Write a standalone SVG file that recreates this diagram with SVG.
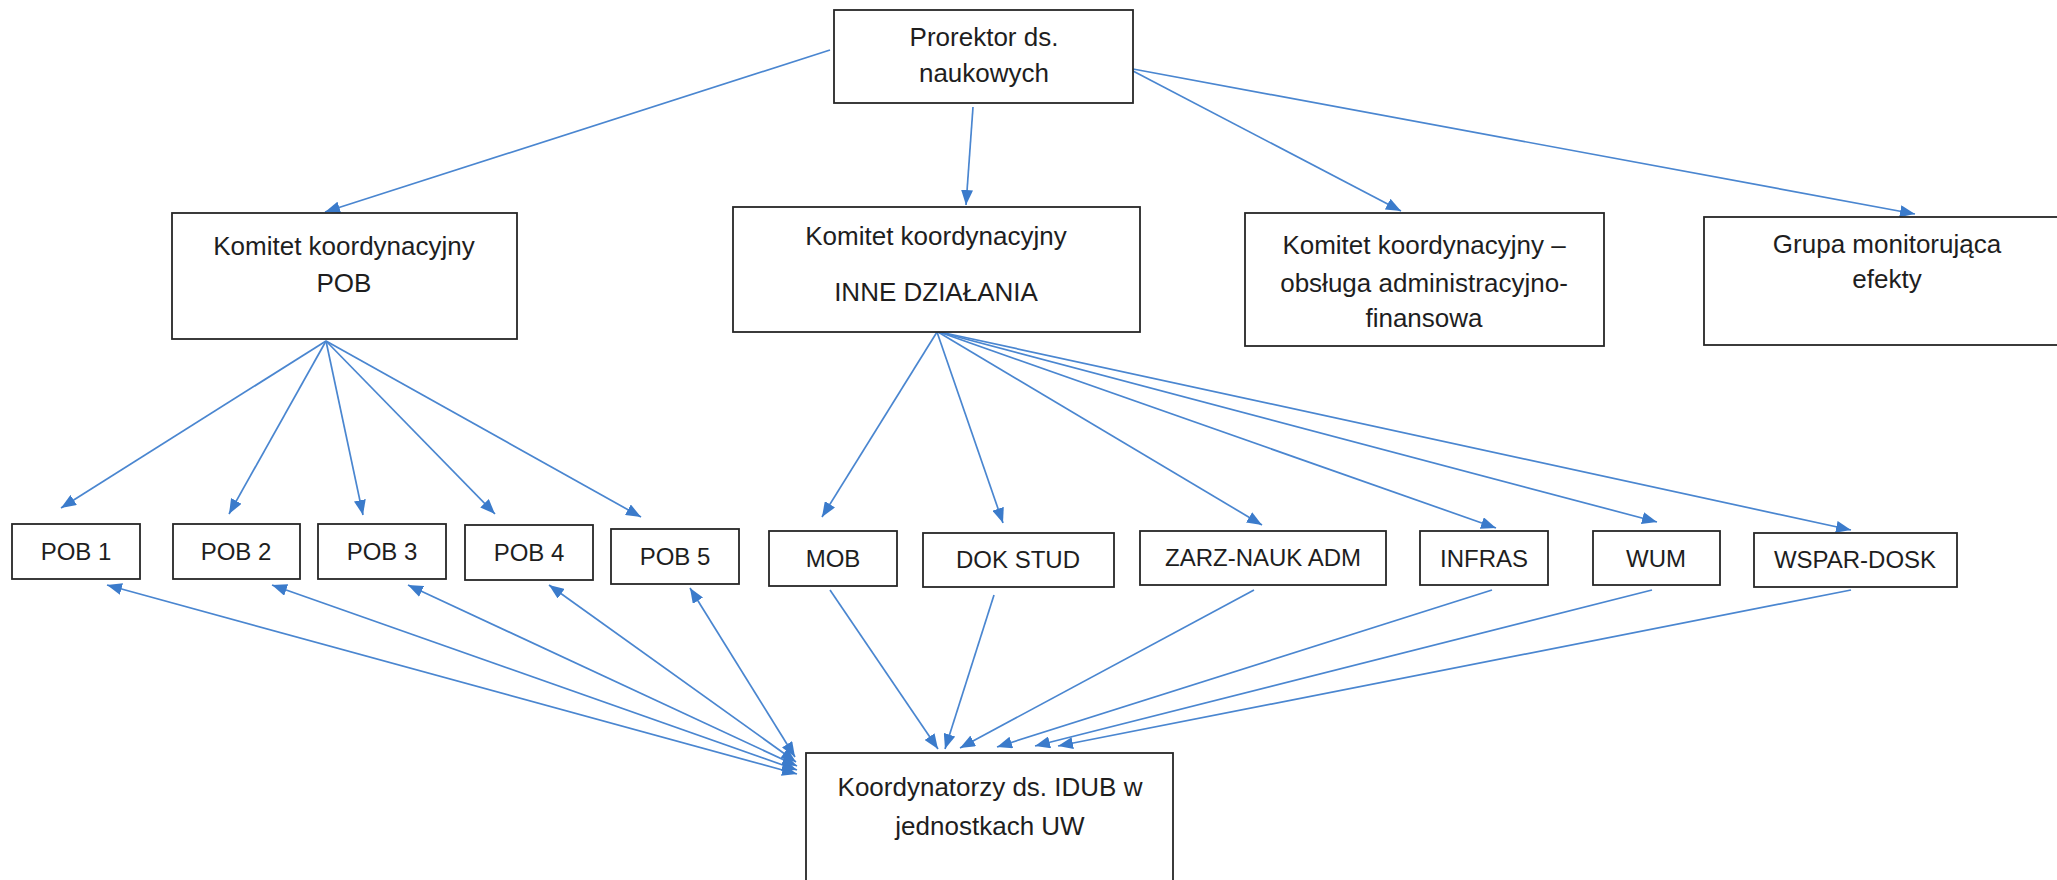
<svg xmlns="http://www.w3.org/2000/svg" width="2057" height="880" viewBox="0 0 2057 880">
<style>
.box{fill:#fff;stroke:#262626;stroke-width:1.8}
.t{font-family:"Liberation Sans",Arial,sans-serif;font-size:26px;fill:#1e1e1e;text-anchor:middle}
.s{font-size:24px}
.c{fill:none;stroke:#4a86d0;stroke-width:1.7}
</style>
<defs>
<marker id="ah" viewBox="0 0 15 12" refX="15" refY="6" markerWidth="15" markerHeight="12" markerUnits="userSpaceOnUse" orient="auto-start-reverse">
<path d="M0,0 L15,6 L0,12 z" fill="#3b7bcb"/>
</marker>
</defs>
<rect width="2057" height="880" fill="#fff"/>
<g id="connectors">
<line class="c" x1="830" y1="50" x2="325" y2="212" marker-end="url(#ah)"/>
<line class="c" x1="973" y1="107" x2="966" y2="205" marker-end="url(#ah)"/>
<line class="c" x1="1133" y1="71" x2="1401" y2="211" marker-end="url(#ah)"/>
<line class="c" x1="1133" y1="69" x2="1915" y2="214" marker-end="url(#ah)"/>
<line class="c" x1="326" y1="341" x2="61" y2="508" marker-end="url(#ah)"/>
<line class="c" x1="326" y1="341" x2="229" y2="514" marker-end="url(#ah)"/>
<line class="c" x1="326" y1="341" x2="363" y2="515" marker-end="url(#ah)"/>
<line class="c" x1="326" y1="341" x2="495" y2="514" marker-end="url(#ah)"/>
<line class="c" x1="326" y1="341" x2="641" y2="517" marker-end="url(#ah)"/>
<line class="c" x1="937" y1="332" x2="822" y2="517" marker-end="url(#ah)"/>
<line class="c" x1="937" y1="332" x2="1003" y2="523" marker-end="url(#ah)"/>
<line class="c" x1="938" y1="332" x2="1262" y2="525" marker-end="url(#ah)"/>
<line class="c" x1="939" y1="332" x2="1496" y2="528" marker-end="url(#ah)"/>
<line class="c" x1="939" y1="332" x2="1657" y2="522" marker-end="url(#ah)"/>
<line class="c" x1="940" y1="332" x2="1851" y2="530" marker-end="url(#ah)"/>
<line class="c" x1="107" y1="585" x2="797" y2="774" marker-start="url(#ah)" marker-end="url(#ah)"/>
<line class="c" x1="272" y1="585" x2="797" y2="770" marker-start="url(#ah)" marker-end="url(#ah)"/>
<line class="c" x1="408" y1="585" x2="797" y2="766" marker-start="url(#ah)" marker-end="url(#ah)"/>
<line class="c" x1="549" y1="585" x2="796" y2="762" marker-start="url(#ah)" marker-end="url(#ah)"/>
<line class="c" x1="690" y1="588" x2="795" y2="757" marker-start="url(#ah)" marker-end="url(#ah)"/>
<line class="c" x1="830" y1="590" x2="938" y2="749" marker-end="url(#ah)"/>
<line class="c" x1="994" y1="595" x2="945" y2="749" marker-end="url(#ah)"/>
<line class="c" x1="1254" y1="590" x2="960" y2="748" marker-end="url(#ah)"/>
<line class="c" x1="1492" y1="590" x2="997" y2="747" marker-end="url(#ah)"/>
<line class="c" x1="1652" y1="590" x2="1035" y2="746" marker-end="url(#ah)"/>
<line class="c" x1="1851" y1="590" x2="1058" y2="746" marker-end="url(#ah)"/>
</g>
<g id="prorektor"><rect class="box" x="834" y="10" width="299" height="93"/><text class="t" x="984" y="46">Prorektor ds.</text><text class="t" x="984" y="82">naukowych</text></g>
<g id="komitet-pob"><rect class="box" x="172" y="213" width="345" height="126"/><text class="t" x="344" y="255">Komitet koordynacyjny</text><text class="t" x="344" y="292">POB</text></g>
<g id="komitet-inne"><rect class="box" x="733" y="207" width="407" height="125"/><text class="t" x="936" y="245">Komitet koordynacyjny</text><text class="t" x="936" y="301">INNE DZIAŁANIA</text></g>
<g id="komitet-admin"><rect class="box" x="1245" y="213" width="359" height="133"/><text class="t" x="1424" y="254">Komitet koordynacyjny –</text><text class="t" x="1424" y="292">obsługa administracyjno-</text><text class="t" x="1424" y="327">finansowa</text></g>
<g id="grupa"><rect class="box" x="1704" y="217" width="370" height="128"/><text class="t" x="1887" y="253">Grupa monitorująca</text><text class="t" x="1887" y="288">efekty</text></g>
<g id="pob1"><rect class="box" x="12" y="524" width="128" height="55"/><text class="t s" x="76" y="560">POB 1</text></g>
<g id="pob2"><rect class="box" x="173" y="524" width="127" height="55"/><text class="t s" x="236" y="560">POB 2</text></g>
<g id="pob3"><rect class="box" x="318" y="524" width="128" height="55"/><text class="t s" x="382" y="560">POB 3</text></g>
<g id="pob4"><rect class="box" x="465" y="525" width="128" height="55"/><text class="t s" x="529" y="561">POB 4</text></g>
<g id="pob5"><rect class="box" x="611" y="529" width="128" height="55"/><text class="t s" x="675" y="565">POB 5</text></g>
<g id="mob"><rect class="box" x="769" y="531" width="128" height="55"/><text class="t s" x="833" y="567">MOB</text></g>
<g id="dokstud"><rect class="box" x="923" y="533" width="191" height="54"/><text class="t s" x="1018" y="568">DOK STUD</text></g>
<g id="zarz"><rect class="box" x="1140" y="531" width="246" height="54"/><text class="t s" x="1263" y="566">ZARZ-NAUK ADM</text></g>
<g id="infras"><rect class="box" x="1420" y="531" width="128" height="54"/><text class="t s" x="1484" y="567">INFRAS</text></g>
<g id="wum"><rect class="box" x="1593" y="531" width="127" height="54"/><text class="t s" x="1656" y="567">WUM</text></g>
<g id="wspar"><rect class="box" x="1754" y="533" width="203" height="54"/><text class="t s" x="1855" y="568">WSPAR-DOSK</text></g>
<g id="koordynatorzy"><rect class="box" x="806" y="753" width="367" height="150"/><text class="t" x="990" y="796">Koordynatorzy ds. IDUB w</text><text class="t" x="990" y="835">jednostkach UW</text></g>
</svg>
